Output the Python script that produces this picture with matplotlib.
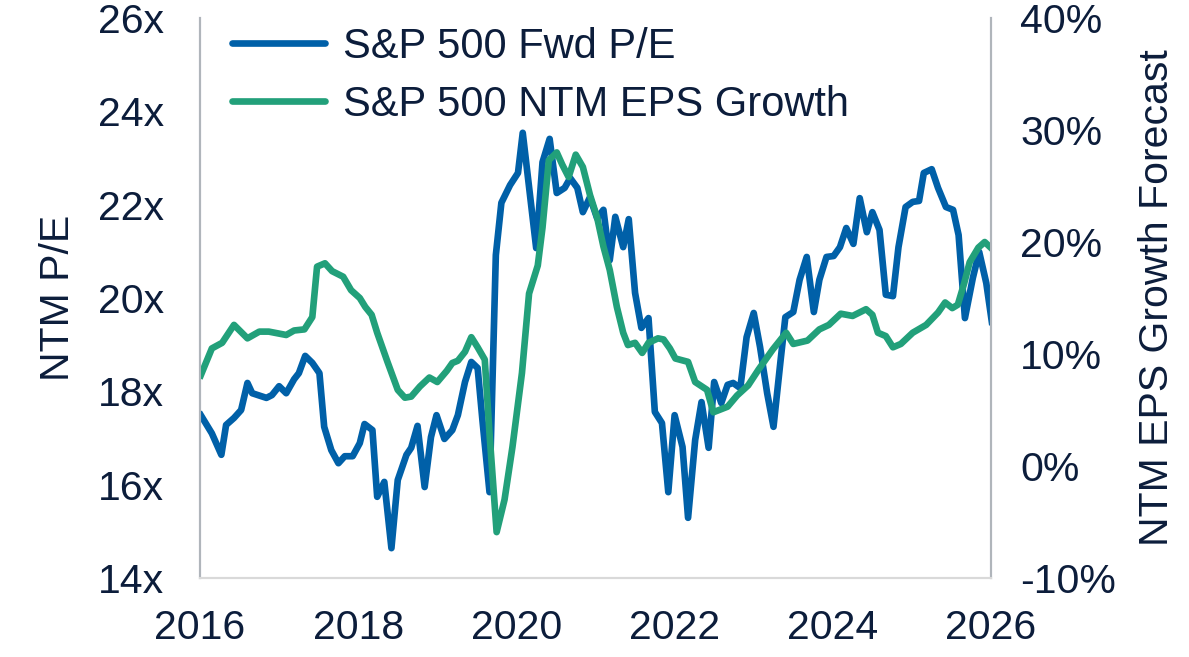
import matplotlib
matplotlib.use("Agg")
import matplotlib.pyplot as plt

# S&P 500 forward P/E (decimal year, multiple)
pe_t = [2016.01, 2016.15, 2016.27, 2016.33, 2016.43, 2016.52, 2016.60, 2016.66, 2016.84, 2016.91,
        2017.00, 2017.09, 2017.19, 2017.25, 2017.33, 2017.42, 2017.51, 2017.57, 2017.66, 2017.75,
        2017.83, 2017.93, 2018.02, 2018.08, 2018.18, 2018.24, 2018.33, 2018.42, 2018.50, 2018.61,
        2018.67, 2018.75, 2018.84, 2018.92, 2018.99, 2019.09, 2019.19, 2019.26, 2019.35, 2019.43,
        2019.51, 2019.57, 2019.66, 2019.74, 2019.81, 2019.92, 2020.02, 2020.08, 2020.25, 2020.33,
        2020.42, 2020.51, 2020.61, 2020.68, 2020.77, 2020.84, 2020.93, 2021.02, 2021.10, 2021.18,
        2021.25, 2021.35, 2021.42, 2021.50, 2021.58, 2021.67, 2021.75, 2021.84, 2021.92, 2022.00,
        2022.10, 2022.17, 2022.26, 2022.34, 2022.43, 2022.50, 2022.59, 2022.67, 2022.74, 2022.83,
        2022.91, 2023.00, 2023.08, 2023.17, 2023.25, 2023.34, 2023.40, 2023.50, 2023.58, 2023.67,
        2023.76, 2023.83, 2023.92, 2024.01, 2024.09, 2024.17, 2024.26, 2024.34, 2024.43, 2024.50,
        2024.59, 2024.67, 2024.76, 2024.83, 2024.92, 2025.01, 2025.09, 2025.15, 2025.25, 2025.33,
        2025.43, 2025.52, 2025.59, 2025.67, 2025.77, 2025.85, 2025.94, 2026.01]
pe_val = [17.49, 17.10, 16.64, 17.28, 17.43, 17.60, 18.18, 17.96, 17.86, 17.92,
          18.11, 17.96, 18.26, 18.39, 18.76, 18.61, 18.39, 17.24, 16.74, 16.46,
          16.61, 16.61, 16.89, 17.30, 17.17, 15.74, 16.06, 14.64, 16.10, 16.64,
          16.79, 17.26, 15.95, 17.02, 17.49, 16.98, 17.17, 17.49, 18.20, 18.63,
          18.50, 17.39, 15.84, 20.92, 22.04, 22.42, 22.68, 23.54, 21.07, 22.91,
          23.41, 22.25, 22.36, 22.57, 22.36, 21.84, 22.16, 21.71, 21.89, 20.81,
          21.74, 21.09, 21.69, 20.11, 19.36, 19.57, 17.56, 17.32, 15.84, 17.49,
          16.81, 15.29, 16.96, 17.77, 16.79, 18.20, 17.75, 18.14, 18.18, 18.07,
          19.16, 19.68, 18.95, 17.96, 17.24, 18.67, 19.59, 19.70, 20.39, 20.88,
          19.70, 20.39, 20.88, 20.90, 21.09, 21.50, 21.16, 22.14, 21.41, 21.84,
          21.46, 20.07, 20.04, 21.09, 21.95, 22.06, 22.08, 22.68, 22.76, 22.36,
          21.95, 21.89, 21.35, 19.57, 20.43, 20.99, 20.32, 19.49]

# S&P 500 NTM EPS growth forecast (decimal year, %)
eps_t = [2016.01, 2016.15, 2016.28, 2016.43, 2016.60, 2016.75, 2016.87, 2017.09, 2017.19, 2017.32,
         2017.42, 2017.48, 2017.58, 2017.67, 2017.81, 2017.91, 2018.02, 2018.09, 2018.17, 2018.24,
         2018.37, 2018.50, 2018.59, 2018.67, 2018.78, 2018.90, 2019.00, 2019.12, 2019.19, 2019.26,
         2019.35, 2019.43, 2019.51, 2019.60, 2019.66, 2019.75, 2019.85, 2019.95, 2020.07, 2020.16,
         2020.27, 2020.33, 2020.41, 2020.51, 2020.58, 2020.66, 2020.75, 2020.84, 2020.93, 2021.02,
         2021.10, 2021.18, 2021.27, 2021.35, 2021.41, 2021.50, 2021.59, 2021.67, 2021.79, 2021.86,
         2021.94, 2022.01, 2022.17, 2022.26, 2022.41, 2022.49, 2022.67, 2022.79, 2022.93, 2023.06,
         2023.24, 2023.41, 2023.50, 2023.68, 2023.83, 2023.95, 2024.10, 2024.25, 2024.42, 2024.50,
         2024.57, 2024.67, 2024.76, 2024.86, 2025.01, 2025.18, 2025.33, 2025.42, 2025.51, 2025.58,
         2025.66, 2025.73, 2025.84, 2025.92, 2026.01]
eps_val = [8.1, 10.5, 11.0, 12.6, 11.4, 12.0, 12.0, 11.7, 12.1, 12.2,
           13.3, 17.8, 18.1, 17.4, 16.9, 15.7, 15.0, 14.2, 13.5, 11.9,
           9.3, 6.8, 6.1, 6.2, 7.1, 7.9, 7.5, 8.5, 9.2, 9.4,
           10.2, 11.5, 10.6, 9.5, 2.9, -5.9, -3.0, 1.7, 8.3, 15.4,
           17.9, 21.3, 27.3, 28.0, 26.9, 25.8, 27.8, 26.7, 24.2, 22.2,
           19.6, 17.5, 14.2, 11.9, 10.8, 11.0, 10.1, 11.0, 11.4, 11.3,
           10.5, 9.6, 9.3, 7.5, 6.8, 4.8, 5.3, 6.3, 7.2, 8.6,
           10.4, 11.9, 10.9, 11.2, 12.2, 12.6, 13.6, 13.4, 14.0, 13.5,
           11.9, 11.6, 10.6, 10.9, 11.9, 12.6, 13.7, 14.6, 14.1, 14.4,
           16.3, 18.2, 19.5, 20.0, 19.4]

years = [2016, 2018, 2020, 2022, 2024, 2026]
pe_ticks = [14, 16, 18, 20, 22, 24, 26]
eps_ticks = [-10, 0, 10, 20, 30, 40]

navy = "#0c1d3b"
blue = "#0060a8"
green = "#22a07a"

plt.rcParams["font.family"] = ["Liberation Sans", "DejaVu Sans"]
plt.rcParams["font.size"] = 29.5

fig = plt.figure(figsize=(11.89, 6.57), dpi=100)
ax = fig.add_axes([0.1682, 0.1202, 0.6653, 0.8524])
ax2 = ax.twinx()

l1, = ax.plot(pe_t, pe_val, color=blue, lw=4.8, solid_joinstyle="round", label="S&P 500 Fwd P/E")
l2, = ax2.plot(eps_t, eps_val, color=green, lw=4.8, solid_joinstyle="round", label="S&P 500 NTM EPS Growth")

ax.set_xlim(2016, 2026)
ax.set_ylim(14, 26)
ax2.set_ylim(-10, 40)
ax.set_xticks(years)
ax.set_xticklabels([str(y) for y in years])
ax.set_yticks(pe_ticks)
ax.set_yticklabels([f"{v}x" for v in pe_ticks])
ax2.set_yticks(eps_ticks)
ax2.set_yticklabels([f"{v}%" for v in eps_ticks])

ax.tick_params(axis="x", length=0, pad=22, colors=navy)
ax.tick_params(axis="y", length=0, pad=26, colors=navy)
ax2.tick_params(axis="y", length=0, pad=21, colors=navy)

ax.set_ylabel("NTM P/E", color=navy, labelpad=15)
ax2.set_ylabel("NTM EPS Growth Forecast", color=navy, labelpad=16)

for a in (ax, ax2):
    a.spines["top"].set_visible(False)
    a.spines["left"].set_color("#b0b5bb")
    a.spines["right"].set_color("#b0b5bb")
    a.spines["bottom"].set_color("#d9d9d9")
    for s in ("left", "right", "bottom"):
        a.spines[s].set_linewidth(1.5)

leg = ax.legend(handles=[l1, l2], loc="upper left", bbox_to_anchor=(0.02, 1.014), frameon=False,
                fontsize=30, handlelength=2.23, handletextpad=0.43, labelspacing=0.43, borderaxespad=0)
for t in leg.get_texts():
    t.set_color(navy)
for h in leg.get_lines():
    h.set_solid_capstyle("round")

fig.savefig("out.png", dpi=100)
